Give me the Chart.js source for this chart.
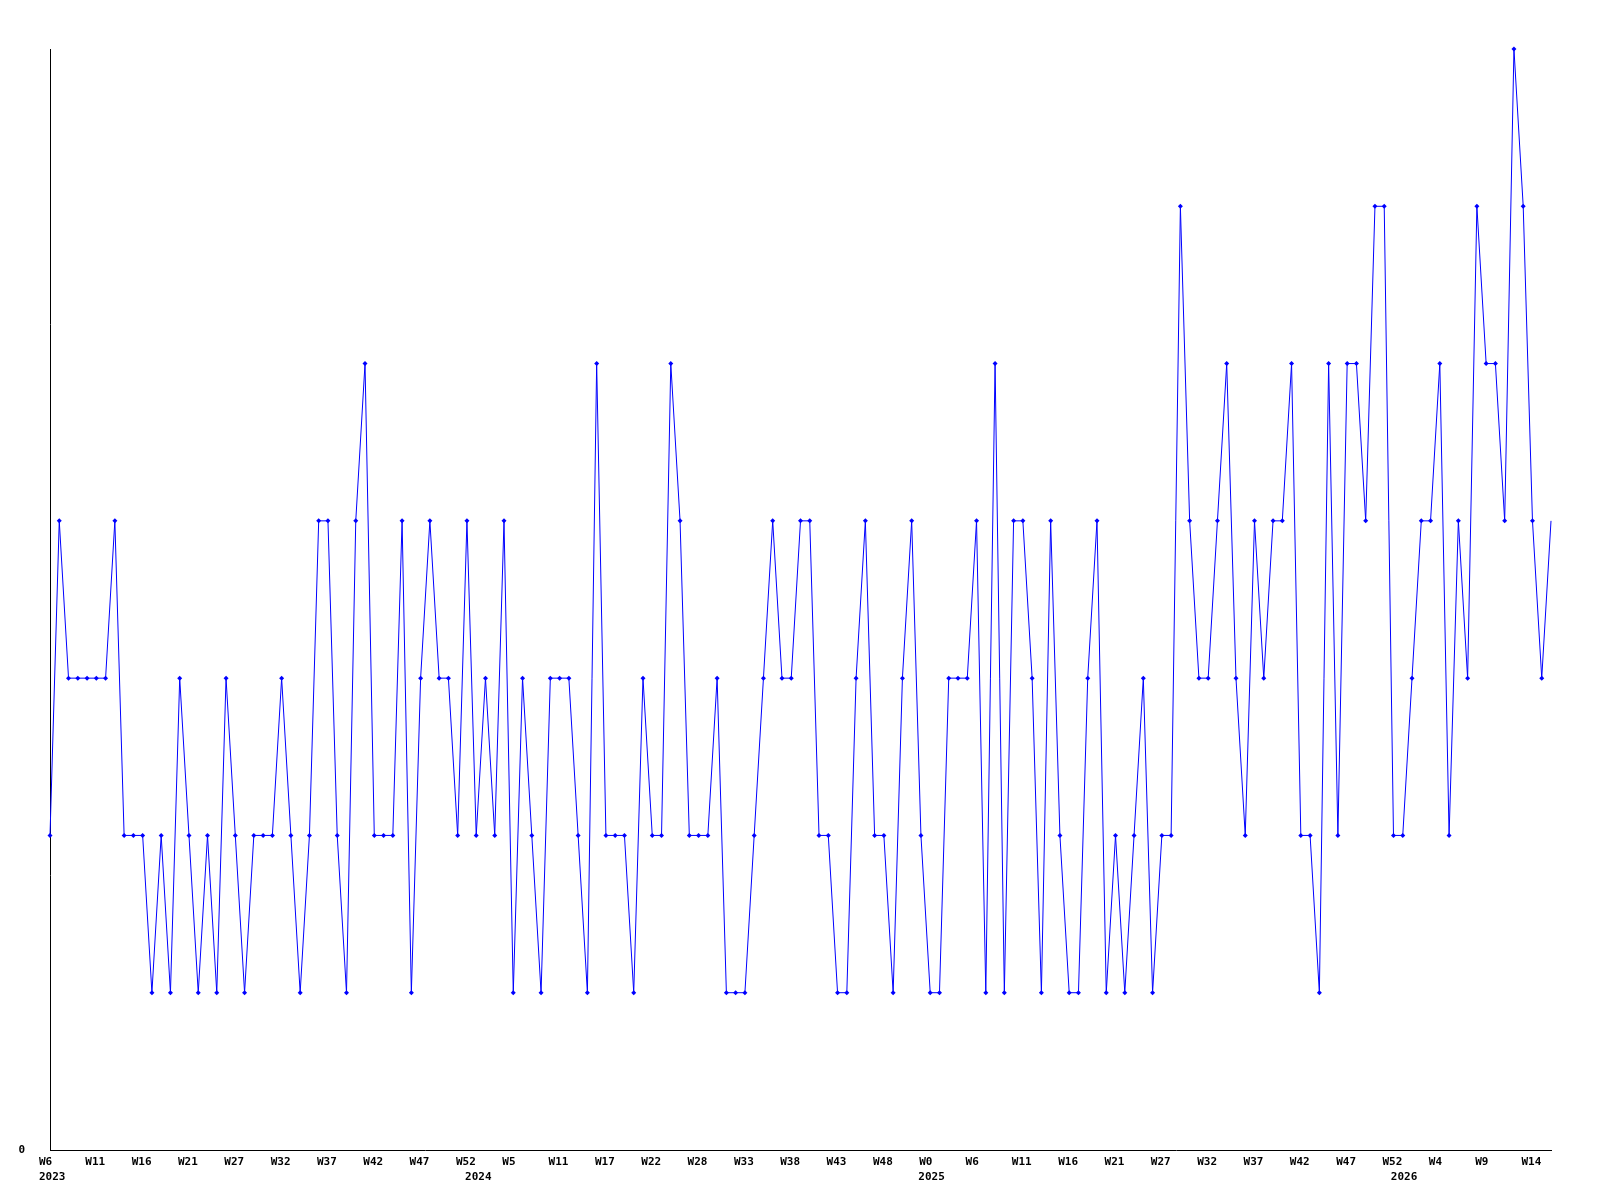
<!DOCTYPE html>
<html>
<head>
<meta charset="utf-8">
<script src="https://cdn.jsdelivr.net/npm/chart.js@4/dist/chart.umd.min.js"></script>
<style>
html,body{margin:0;padding:0;background:#ffffff;}
canvas{display:block;}
</style>
</head>
<body>
<canvas id="c" width="1600" height="1200"></canvas>
<script>
// ---- data ----
const values = [
  2,4,3,3,3,3,3,4,2,2,2,1,2,1,3,2,1,2,1,3,2,1,2,2,2,3,2,1,
  2,4,4,2,1,4,5,2,2,2,4,1,3,4,3,3,2,4,2,3,2,4,1,3,2,1,3,
  3,3,2,1,5,2,2,2,1,3,2,2,5,4,2,2,2,3,1,1,1,2,3,4,3,3,4,
  4,2,2,1,1,3,4,2,2,1,3,4,2,1,1,3,3,3,4,1,5,1,4,4,3,1,4,
  2,1,1,3,4,1,2,1,2,3,1,2,2,6,4,3,3,4,5,3,2,4,3,4,4,5,2,
  2,1,5,2,5,5,4,6,6,2,2,3,4,4,5,2,4,3,6,5,5,4,7,6,4,3,4
];
const weekTickLabels = ['W6','W11','W16','W21','W27','W32','W37','W42','W47','W52',
  'W5','W11','W17','W22','W28','W33','W38','W43','W48','W0',
  'W6','W11','W16','W21','W27','W32','W37','W42','W47','W52',
  'W4','W9','W14'];
const weekTickPositions = [0,5,10,15,20,25,30,35,40,45,50,55,60,65,70,75,80,85,90,95,
  100,105,110,115,120,125,130,135,140,145,150,155,160];
const yearTickLabels = ['2023','2024','2025','2026'];
const yearTickPositions = [0, 45.98, 94.9, 145.9];
const yTickValues = [0];
const yMin = 0, yMax = 7;

// ---- chart ----
const points = values.map((v, i) => ({x: i, y: v}));
const lastIndex = values.length - 1;
const FONT = {family: "'DejaVu Sans Mono', 'Liberation Mono', monospace", size: 11, weight: 'bold'};

Chart.defaults.font = FONT;
Chart.defaults.color = '#000000';

new Chart(document.getElementById('c'), {
  type: 'line',
  data: {
    datasets: [{
      data: points,
      borderColor: '#0000ff',
      backgroundColor: '#0000ff',
      borderWidth: 1,
      pointStyle: 'rectRot',
      pointRadius: ctx => ctx.dataIndex === lastIndex ? 0 : 2.5,
      pointBorderWidth: 0,
      pointBackgroundColor: '#0000ff',
      tension: 0,
      fill: false,
      clip: false
    }]
  },
  options: {
    responsive: false,
    devicePixelRatio: 1,
    animation: false,
    events: [],
    layout: {padding: {left: 0, top: 49, right: 49, bottom: 15}},
    plugins: {legend: {display: false}, tooltip: {enabled: false}, title: {display: false}},
    scales: {
      x: {
        type: 'linear',
        position: 'bottom',
        weight: 0,
        min: 0,
        max: lastIndex,
        grid: {display: true, drawOnChartArea: false, drawTicks: false},
        border: {display: true, color: '#000000', width: 1},
        afterBuildTicks: axis => { axis.ticks = weekTickPositions.map(v => ({value: v})); },
        afterFit: axis => { axis.height = 15; },
        ticks: {
          autoSkip: false,
          maxRotation: 0,
          minRotation: 0,
          align: 'start',
          labelOffset: -11,
          padding: 6,
          color: '#000000',
          font: FONT,
          callback: (value, index) => weekTickLabels[index]
        }
      },
      years: {
        type: 'linear',
        position: 'bottom',
        axis: 'x',
        weight: 1,
        min: 0,
        max: lastIndex,
        grid: {display: true, drawOnChartArea: false, drawTicks: false},
        border: {display: false},
        afterBuildTicks: axis => { axis.ticks = yearTickPositions.map(v => ({value: v})); },
        afterFit: axis => { axis.height = 20; },
        ticks: {
          autoSkip: false,
          maxRotation: 0,
          minRotation: 0,
          align: 'start',
          labelOffset: -11,
          padding: 6,
          color: '#000000',
          font: FONT,
          callback: (value, index) => yearTickLabels[index]
        }
      },
      y: {
        type: 'linear',
        min: yMin,
        max: yMax,
        grid: {display: true, drawOnChartArea: false, drawTicks: false},
        border: {display: true, color: '#000000', width: 1},
        afterBuildTicks: axis => { axis.ticks = yTickValues.map(v => ({value: v})); },
        afterFit: axis => { axis.width = 50; },
        ticks: {
          padding: 25,
          color: '#000000',
          font: FONT,
          callback: value => String(value)
        }
      }
    }
  }
});
</script>
</body>
</html>
